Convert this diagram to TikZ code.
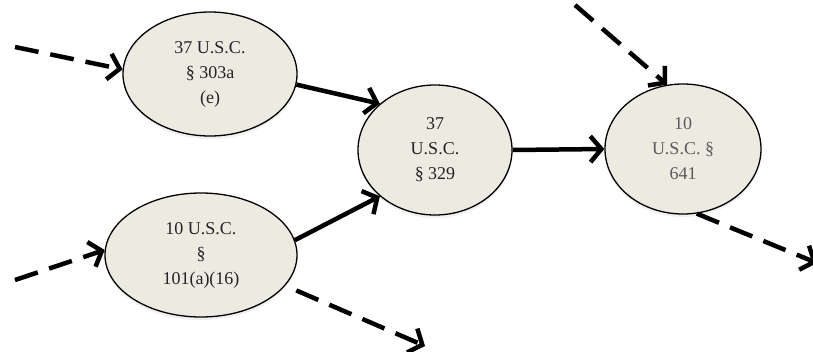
\documentclass[tikz,border=0pt]{standalone}
\usepackage{fontspec}
\setmainfont{Liberation Serif}
\usetikzlibrary{arrows.meta,shapes.geometric,shadows}
\definecolor{nodefill}{RGB}{236,234,225}
\definecolor{txt}{RGB}{35,35,35}
\tikzset{
  law/.style={ellipse, draw=black, line width=1.3pt, fill=nodefill, inner sep=0pt,
    align=center, text=txt, font=\fontsize{18}{25}\selectfont,
    drop shadow={opacity=0.12, shadow xshift=0pt, shadow yshift=-3pt}},
  link/.style={line width=4.5pt, -{Straight Barb[length=11pt,width=26pt,line width=4.5pt]}},
  dlink/.style={link, dash pattern=on 24pt off 12pt},
}
\begin{document}
\begin{tikzpicture}[x=1pt,y=-1pt]
\useasboundingbox (0,0) rectangle (813,351);
\node[law, minimum width=174pt, minimum height=124pt] (A) at (210,74) {37 U.S.C.\\\S\ 303a\\(e)};
\node[law, minimum width=192pt, minimum height=124pt] (B) at (201,255) {10 U.S.C.\\\S\\101(a)(16)};
\node[law, minimum width=154pt, minimum height=130pt] (C) at (435,150) {37\\U.S.C.\\\S\ 329};
\node[law, minimum width=156pt, minimum height=130pt, text=txt!75] (D) at (683,149) {10\\U.S.C. \S\\641};
\coordinate (inA) at (15,47);
\coordinate (inB) at (15,280);
\coordinate (outB) at (425,346);
\coordinate (inD) at (575,5);
\coordinate (outD) at (817,263);
\draw[link] (A.-7) -- (C.140);
\draw[link] (B.9) -- (C.-140);
\draw[link] (C.east) -- (D.west);
\draw[dlink] (inA) -- (A.177);
\draw[dlink] (inB) -- (B.177);
\draw[dlink, shorten <=12pt] (B.-20) -- (outB);
\draw[dlink] (inD) -- (D.104);
\draw[dlink] (D.-78) -- (outD);
\end{tikzpicture}
\end{document}
